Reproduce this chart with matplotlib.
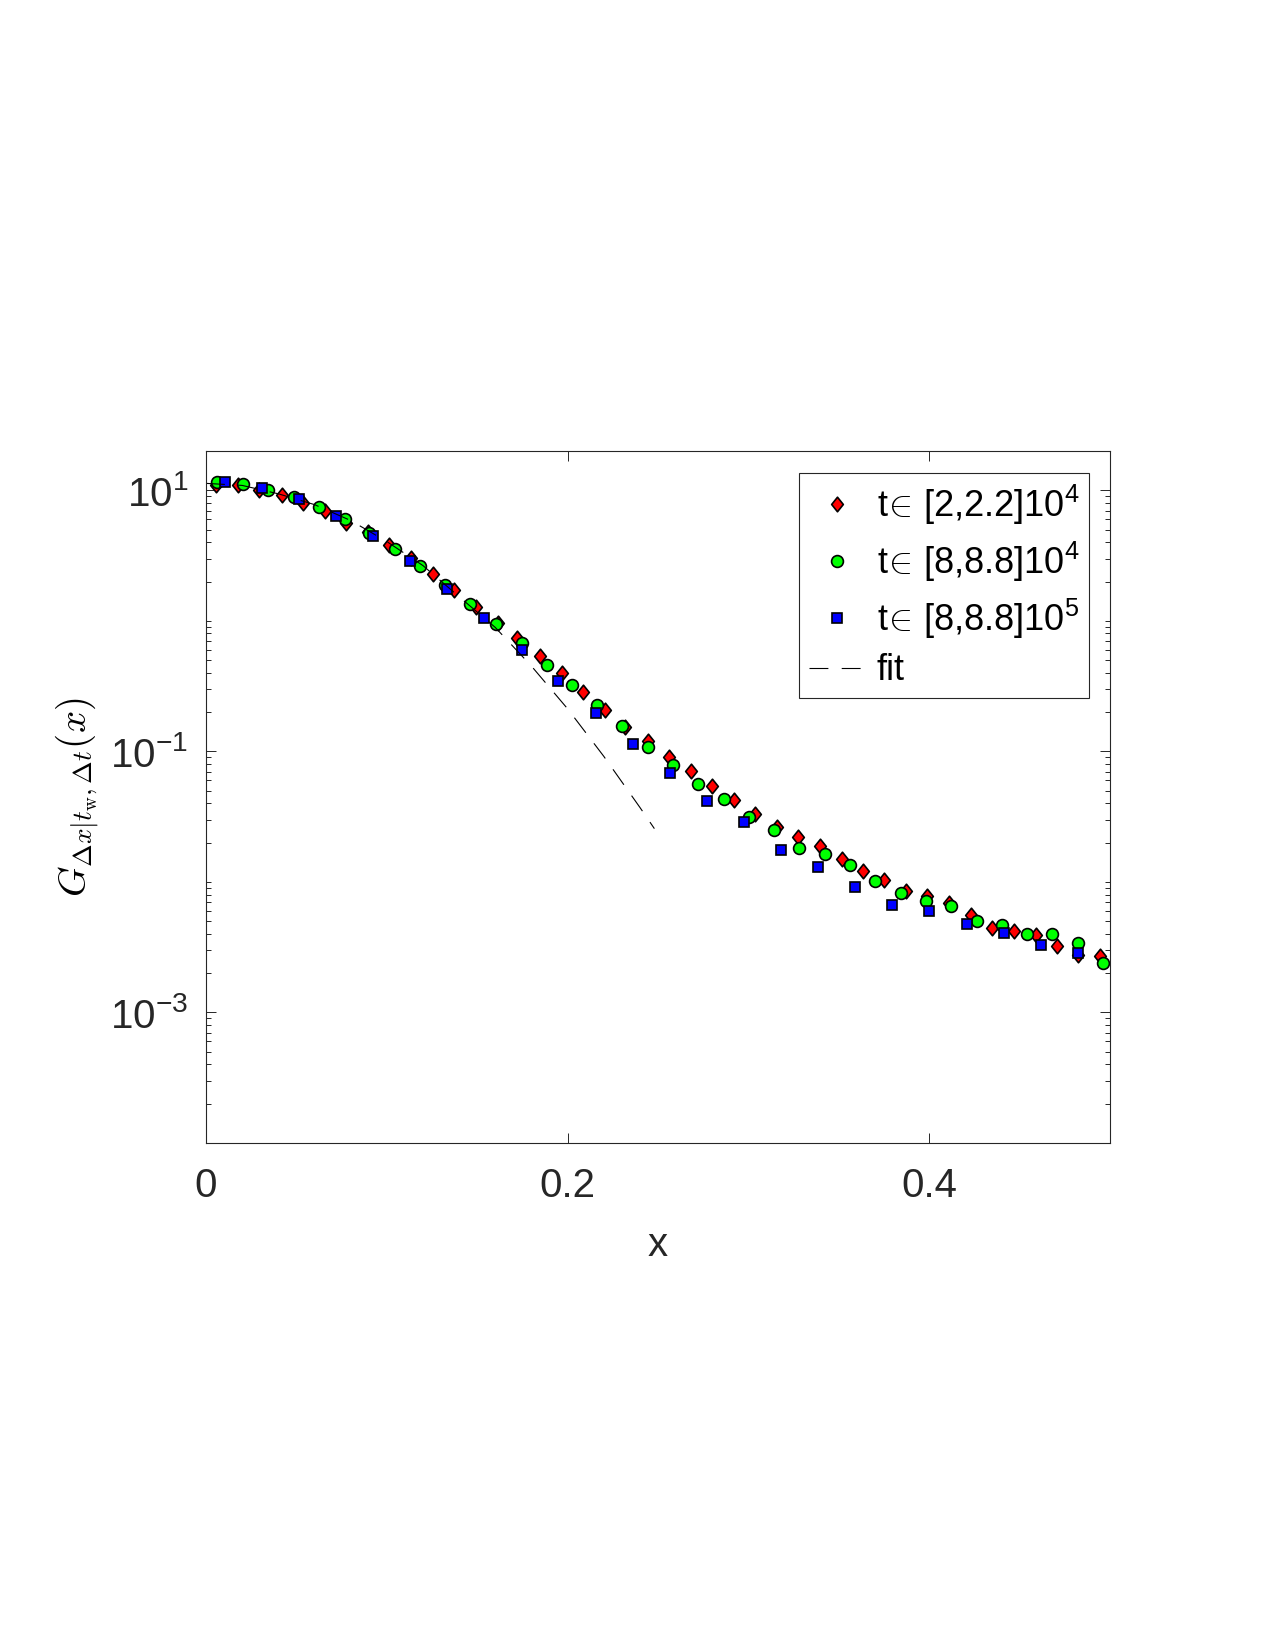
import numpy as np
import matplotlib
matplotlib.use('Agg')
import matplotlib.pyplot as plt
from matplotlib.path import Path
from matplotlib.ticker import LogLocator, NullFormatter

plt.rcParams['font.family'] = ['Liberation Sans', 'DejaVu Sans']
plt.rcParams['mathtext.fontset'] = 'custom'
plt.rcParams['mathtext.rm'] = 'Liberation Sans'
plt.rcParams['mathtext.it'] = 'Liberation Sans:italic'
plt.rcParams['mathtext.bf'] = 'Liberation Sans:bold'

# t in [2,2.2]10^4
x_red = [0.0055, 0.0175, 0.0293, 0.0419, 0.0535, 0.0660, 0.0774, 0.0896, 0.1010, 0.1134,
         0.1254, 0.1374, 0.1493, 0.1613, 0.1722, 0.1847, 0.1967, 0.2087, 0.2207, 0.2317,
         0.2443, 0.2561, 0.2681, 0.2799, 0.2919, 0.3036, 0.3157, 0.3276, 0.3394, 0.3516,
         0.3634, 0.3752, 0.3872, 0.3990, 0.4111, 0.4229, 0.4349, 0.4467, 0.4589, 0.4705,
         0.4821, 0.4945]
g_red = [10.9, 10.9, 10.1, 9.27, 8.0, 6.90, 5.62, 4.83, 3.84, 3.03,
         2.29, 1.71, 1.28, 0.97, 0.74, 0.535, 0.399, 0.285, 0.206, 0.154,
         0.121, 0.0905, 0.0703, 0.0539, 0.0427, 0.0333, 0.0263, 0.0221, 0.0189, 0.0149,
         0.0121, 0.0103, 0.00845, 0.00783, 0.00689, 0.00561, 0.00444, 0.00423, 0.00389, 0.00321,
         0.00277, 0.00270]

# t in [8,8.8]10^4
x_green = [0.0059, 0.0206, 0.0345, 0.0485, 0.0627, 0.0769, 0.0903, 0.1045, 0.1185, 0.1322,
           0.1460, 0.1604, 0.1746, 0.1884, 0.2023, 0.2164, 0.2303, 0.2443, 0.2585, 0.2723,
           0.2864, 0.3003, 0.3142, 0.3282, 0.3424, 0.3562, 0.3700, 0.3844, 0.3982, 0.4121,
           0.4263, 0.4403, 0.4543, 0.4681, 0.4821, 0.4963]
g_green = [11.6, 11.1, 10.07, 8.84, 7.46, 6.04, 4.72, 3.56, 2.62, 1.89,
           1.355, 0.952, 0.678, 0.456, 0.321, 0.228, 0.156, 0.1075, 0.0782, 0.0566,
           0.0432, 0.0312, 0.0251, 0.0182, 0.01625, 0.01346, 0.01021, 0.00822, 0.00718, 0.00649,
           0.00498, 0.00470, 0.00399, 0.00399, 0.00340, 0.00239]

# t in [8,8.8]10^5
x_blue = [0.0103, 0.0310, 0.0513, 0.0719, 0.0922, 0.1128, 0.1331, 0.1538, 0.1746, 0.1949,
          0.2155, 0.2360, 0.2565, 0.2769, 0.2976, 0.3180, 0.3387, 0.3591, 0.3796, 0.4001,
          0.4207, 0.4414, 0.4618, 0.4823]
g_blue = [11.6, 10.43, 8.59, 6.40, 4.50, 2.89, 1.756, 1.045, 0.601, 0.344,
          0.197, 0.114, 0.0683, 0.0417, 0.0288, 0.01766, 0.01291, 0.00908, 0.00668, 0.00601,
          0.00478, 0.00406, 0.00330, 0.00285]

# fit curve
x_fit = [0.0, 0.02, 0.04, 0.06, 0.08, 0.10, 0.12, 0.14, 0.16, 0.18, 0.20, 0.22, 0.24, 0.248]
g_fit = [11.3, 10.9, 9.4, 7.77, 5.87, 4.05, 2.65, 1.53, 0.89, 0.45, 0.212, 0.0917, 0.0372, 0.0256]

labels = [r't$\!\in\,$[2,2.2]10$^{4}$', r't$\!\in\,$[8,8.8]10$^{4}$', r't$\!\in\,$[8,8.8]10$^{5}$', 'fit']

axcol = (0.15, 0.15, 0.15)
diamond = Path([(0, 1), (0.8, 0), (0, -1), (-0.8, 0), (0, 1)], closed=True)

fig = plt.figure(figsize=(12.75, 16.5), dpi=100)
ax = fig.add_axes([206/1275, 1-1143/1650, 904/1275, 692/1650])

ax.plot(x_red, g_red, linestyle='none', marker=diamond, ms=10.5, mfc=(1, 0, 0), mec='k', mew=1.2, label=labels[0])
ax.plot(x_green, g_green, linestyle='none', marker='o', ms=8.5, mfc=(0, 1, 0), mec='k', mew=1.2, label=labels[1])
ax.plot(x_blue, g_blue, linestyle='none', marker='s', ms=6.5, mfc=(0, 0, 1), mec='k', mew=1.2, label=labels[2])
ax.plot(x_fit, g_fit, color='k', lw=0.8, dashes=(17, 12), label=labels[3])

ax.set_yscale('log')
ax.set_xlim(0, 0.5)
ax.set_ylim(1e-4, 20)
ax.set_xticks([0, 0.2, 0.4])
ax.set_xticklabels(['0', '0.2', '0.4'])
ax.set_yticks([10, 0.1, 1e-3])
ax.set_yticklabels(['$10^{1}$', '$10^{-1}$', '$10^{-3}$'])
ax.yaxis.set_minor_locator(LogLocator(base=10, subs=np.arange(1, 10), numticks=100))
ax.yaxis.set_minor_formatter(NullFormatter())

ax.tick_params(which='both', direction='in', top=True, right=True, color=axcol, width=0.7,
               labelsize=29, labelcolor=axcol)
ax.tick_params(which='major', length=7.2)
ax.tick_params(which='minor', length=3.6)
ax.tick_params(axis='x', pad=17)
ax.tick_params(axis='y', pad=13)
for s in ax.spines.values():
    s.set_color(axcol)
    s.set_linewidth(0.8)

ax.set_ylabel(r'$G_{\Delta x|t_{\rm w},\Delta t}(x)$', fontsize=28, math_fontfamily='cm', color='k')
ax.yaxis.set_label_coords(-0.116, 0.5)
ax.set_xlabel('x', fontsize=29, color=axcol)
ax.xaxis.set_label_coords(0.5, -0.12)

leg = ax.legend(loc='upper right', bbox_to_anchor=(0.977, 0.9686), fontsize=26, frameon=True,
                fancybox=False, edgecolor=axcol, framealpha=1, borderpad=0.28, labelspacing=0.35,
                handlelength=1.5, handletextpad=0.36, borderaxespad=0, numpoints=1)
leg.get_frame().set_linewidth(0.8)

fig.savefig('out.png', dpi=100, facecolor='white')
